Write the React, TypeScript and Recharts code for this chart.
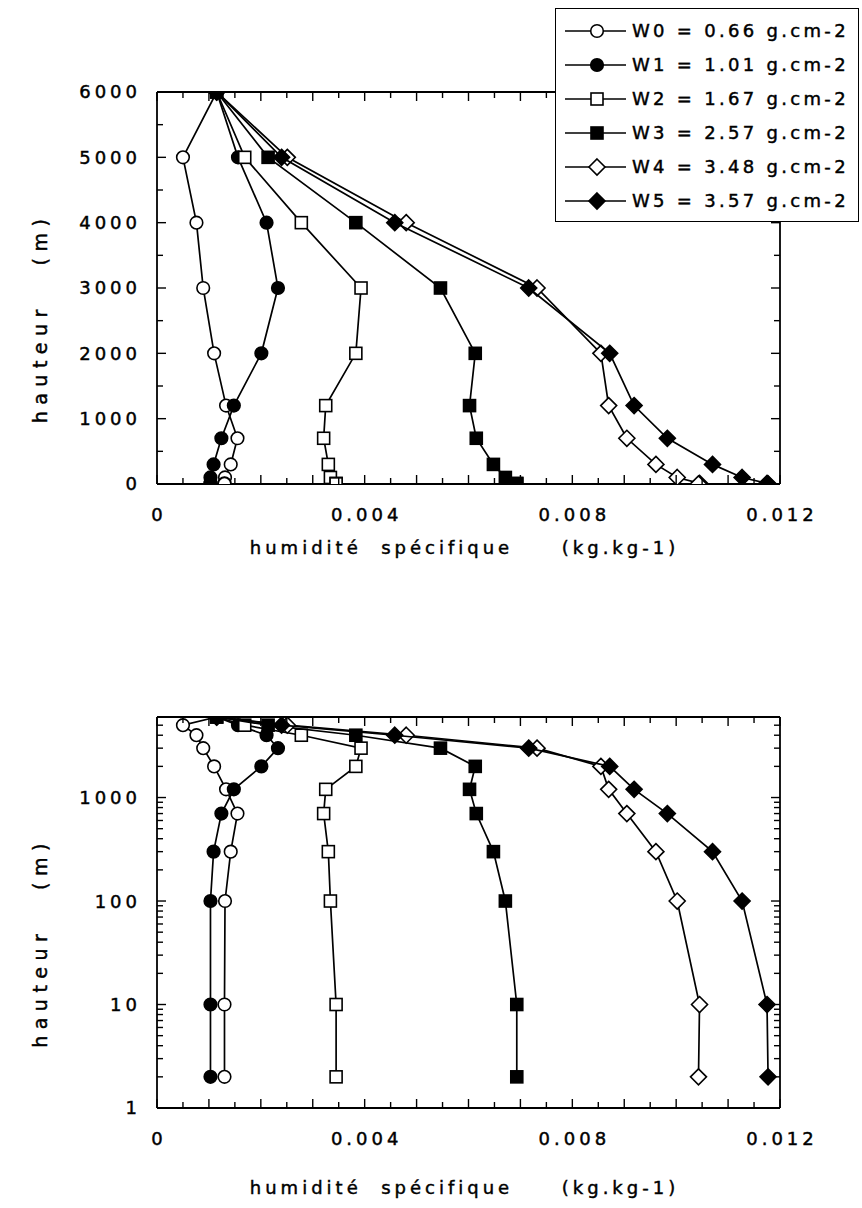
import React from 'react';
import { ScatterChart, Scatter, XAxis, YAxis, Legend } from 'recharts';

// heights (m) of the profile levels
const heights = [6000, 5000, 4000, 3000, 2000, 1200, 700, 300, 100, 10, 2];
// specific humidity (kg/kg) for each profile
const w0 = [0.00115, 0.0005, 0.00076, 0.00089, 0.0011, 0.00133, 0.00155, 0.00142, 0.00131, 0.0013, 0.0013];
const w1 = [0.00115, 0.00156, 0.00211, 0.00233, 0.00201, 0.00148, 0.00124, 0.00109, 0.00103, 0.00103, 0.00103];
const w2 = [0.00115, 0.00169, 0.00278, 0.00393, 0.00383, 0.00325, 0.00321, 0.0033, 0.00334, 0.00345, 0.00345];
const w3 = [0.00115, 0.00214, 0.00383, 0.00546, 0.00613, 0.00602, 0.00615, 0.00648, 0.00671, 0.00693, 0.00693];
const w4 = [0.00115, 0.00251, 0.0048, 0.00732, 0.00855, 0.0087, 0.00905, 0.00961, 0.01002, 0.01045, 0.01043];
const w5 = [0.00115, 0.0024, 0.00458, 0.00716, 0.00872, 0.00919, 0.00983, 0.0107, 0.01127, 0.01175, 0.01177];

const seriesValues = [w0, w1, w2, w3, w4, w5];
const seriesNames = ['W0', 'W1', 'W2', 'W3', 'W4', 'W5'];
const seriesW = ['0.66', '1.01', '1.67', '2.57', '3.48', '3.57'];
const seriesMarkers = ['circle-open', 'circle-filled', 'square-open', 'square-filled', 'diamond-open', 'diamond-filled'];

// axis ticks
const xTicks = [0, 0.0005, 0.001, 0.0015, 0.002, 0.0025, 0.003, 0.0035, 0.004, 0.0045, 0.005, 0.0055, 0.006, 0.0065, 0.007, 0.0075, 0.008, 0.0085, 0.009, 0.0095, 0.01, 0.0105, 0.011, 0.0115, 0.012];
const xMajor = [0, 0.001, 0.002, 0.003, 0.004, 0.005, 0.006, 0.007, 0.008, 0.009, 0.01, 0.011, 0.012];
const xLabels: Record<string, string> = { '0': '0', '0.004': '0.004', '0.008': '0.008', '0.012': '0.012' };
const yLinTicks = [0, 500, 1000, 1500, 2000, 2500, 3000, 3500, 4000, 4500, 5000, 5500, 6000];
const yLinLabels = [0, 1000, 2000, 3000, 4000, 5000, 6000];
const yLogTicks = [1, 2, 3, 4, 5, 6, 7, 8, 9, 10, 20, 30, 40, 50, 60, 70, 80, 90, 100, 200, 300, 400, 500, 600, 700, 800, 900, 1000, 2000, 3000, 4000, 5000, 6000];
const yLogLabels = [1, 10, 100, 1000];

const FONT = '"DejaVu Sans", Verdana, sans-serif';
const FS = 18;
const LS = 4;
const TXT_STROKE = 0.45;

const near = (a: number, list: number[]) => list.some((v) => Math.abs(v - a) < 1e-9);

function Marker({ kind, cx, cy }: { kind: string; cx: number; cy: number }) {
  const filled = kind.endsWith('filled');
  const fill = filled ? '#000' : '#fff';
  if (kind.startsWith('circle')) {
    return <circle cx={cx} cy={cy} r={6.3} fill={fill} stroke="#000" strokeWidth={1.6} />;
  }
  if (kind.startsWith('square')) {
    return <rect x={cx - 6} y={cy - 6} width={12} height={12} fill={fill} stroke="#000" strokeWidth={1.6} />;
  }
  const d = 8;
  return (
    <polygon
      points={`${cx},${cy - d} ${cx + d},${cy} ${cx},${cy + d} ${cx - d},${cy}`}
      fill={fill}
      stroke="#000"
      strokeWidth={1.6}
    />
  );
}

const M_LEFT = 20;
const M_BOTTOM = 24;

const txtProps = {
  fontFamily: FONT,
  fontSize: FS,
  letterSpacing: LS,
  fill: '#000',
  stroke: '#000',
  strokeWidth: TXT_STROKE,
};

const makeLeftTick = (majors: number[], labels: number[]) => (props: any) => {
  const { x, y, payload } = props;
  const v = payload.value;
  const major = near(v, majors);
  const ax = x + M_LEFT;
  return (
    <g>
      <line x1={ax} x2={ax + (major ? 9 : 6)} y1={y} y2={y} stroke="#000" strokeWidth={1.4} />
      {near(v, labels) && (
        <text x={x + LS} y={y} dy="0.36em" textAnchor="end" {...txtProps}>
          {String(v)}
        </text>
      )}
    </g>
  );
};

const makeRightTick = (majors: number[]) => (props: any) => {
  const { x, y, payload } = props;
  const major = near(payload.value, majors);
  return <line x1={x} x2={x - (major ? 9 : 6)} y1={y} y2={y} stroke="#000" strokeWidth={1.4} />;
};

const BottomTick = (props: any) => {
  const { x, y, payload } = props;
  const v = payload.value;
  const major = near(v, xMajor);
  const ay = y - M_BOTTOM;
  const key = Object.keys(xLabels).find((k) => Math.abs(Number(k) - v) < 1e-9);
  return (
    <g>
      <line x1={x} x2={x} y1={ay} y2={ay - (major ? 9 : 6)} stroke="#000" strokeWidth={1.4} />
      {key !== undefined && (
        <text x={x + LS / 2} y={y} dy="0.71em" textAnchor="middle" {...txtProps}>
          {xLabels[key]}
        </text>
      )}
    </g>
  );
};

const TopTick = (props: any) => {
  const { x, y, payload } = props;
  const major = near(payload.value, xMajor);
  return <line x1={x} x2={x} y1={y} y2={y + (major ? 9 : 6)} stroke="#000" strokeWidth={1.4} />;
};

const makeXTitle = (offset: number) => (props: any) => {
  const vb = props.viewBox || {};
  return (
    <text
      x={vb.x + vb.width / 2 - 4}
      y={vb.y + offset}
      dy="0.36em"
      textAnchor="middle"
      {...txtProps}
      style={{ whiteSpace: 'pre' }}
    >
      {'humidité  spécifique     (kg.kg-1)'}
    </text>
  );
};

const YTitle = (props: any) => {
  const vb = props.viewBox || {};
  const cx = vb.x + 40;
  const cy = vb.y + vb.height / 2 + 30;
  return (
    <text
      x={cx}
      y={cy}
      dy="0.36em"
      textAnchor="middle"
      transform={`rotate(-90, ${cx}, ${cy})`}
      {...txtProps}
      fontSize={19}
      letterSpacing={6.5}
      style={{ whiteSpace: 'pre' }}
    >
      {'hauteur   (m)'}
    </text>
  );
};

const LegendBox = () => (
  <div
    style={{
      width: 304,
      height: 214,
      boxSizing: 'border-box',
      border: '1.6px solid #000',
      background: '#fff',
      paddingTop: 5,
    }}
  >
    {seriesNames.map((n, i) => (
      <div key={n} style={{ height: 34, position: 'relative' }}>
        <svg width={80} height={34} style={{ position: 'absolute', left: 0, top: 0 }}>
          <line x1={9} x2={70} y1={17} y2={17} stroke="#000" strokeWidth={1.6} />
          <Marker kind={seriesMarkers[i]} cx={41} cy={17} />
        </svg>
        <div
          style={{
            position: 'absolute',
            left: 76,
            top: 0,
            height: 34,
            lineHeight: '34px',
            fontFamily: FONT,
            fontSize: FS,
            letterSpacing: 3.3,
            whiteSpace: 'pre',
            color: '#000',
            WebkitTextStroke: `${TXT_STROKE}px #000`,
          }}
        >
          {`${n} = ${seriesW[i]} g.cm-2`}
        </div>
      </div>
    ))}
  </div>
);

const seriesData = seriesValues.map((vals) => heights.map((h, i) => ({ q: vals[i], h })));

function Panel({ log, top, height }: { log: boolean; top: number; height: number }) {
  const yTicks = log ? yLogTicks : yLinTicks;
  const yMajors = log ? yLogLabels : yLinLabels;
  const yDomain: [number, number] = log ? [1, 6000] : [0, 6000];
  const margin = log ? { top: 107, right: 62, bottom: 0, left: 0 } : { top: 82, right: 62, bottom: 16, left: 0 };
  const axisLine = { stroke: '#000', strokeWidth: 1.8 };
  return (
    <div style={{ position: 'absolute', left: 0, top, width: 862, height }}>
      <ScatterChart width={862} height={height} margin={margin}>
        <XAxis
          xAxisId="b"
          type="number"
          dataKey="q"
          domain={[0, 0.012]}
          ticks={xTicks}
          interval={0}
          allowDataOverflow
          height={100}
          tickSize={0}
          tickMargin={M_BOTTOM}
          tickLine={false}
          axisLine={axisLine}
          tick={BottomTick}
          label={{ content: makeXTitle(log ? 80 : 64) }}
        />
        <XAxis
          xAxisId="t"
          orientation="top"
          type="number"
          dataKey="q"
          domain={[0, 0.012]}
          ticks={xTicks}
          interval={0}
          allowDataOverflow
          height={10}
          tickSize={0}
          tickMargin={0}
          tickLine={false}
          axisLine={axisLine}
          tick={TopTick}
        />
        <YAxis
          yAxisId="l"
          type="number"
          dataKey="h"
          scale={log ? 'log' : 'linear'}
          domain={yDomain}
          ticks={yTicks}
          interval={0}
          allowDataOverflow
          width={157}
          tickSize={0}
          tickMargin={M_LEFT}
          tickLine={false}
          axisLine={axisLine}
          tick={makeLeftTick(yMajors, yMajors)}
          label={{ content: YTitle }}
        />
        <YAxis
          yAxisId="r"
          orientation="right"
          type="number"
          dataKey="h"
          scale={log ? 'log' : 'linear'}
          domain={yDomain}
          ticks={yTicks}
          interval={0}
          allowDataOverflow
          width={20}
          tickSize={0}
          tickMargin={0}
          tickLine={false}
          axisLine={axisLine}
          tick={makeRightTick(yMajors)}
        />
        {seriesData.map((d, i) => (
          <Scatter
            key={seriesNames[i]}
            name={seriesNames[i]}
            data={d}
            xAxisId="b"
            yAxisId="l"
            fill="#000"
            line={{ stroke: '#000', strokeWidth: 1.7 }}
            isAnimationActive={false}
            shape={(p: any) => <Marker kind={seriesMarkers[i]} cx={p.cx} cy={p.cy} />}
          />
        ))}
        {!log && (
          <Legend
            layout="horizontal"
            verticalAlign="middle"
            align="center"
            wrapperStyle={{ position: 'absolute', left: 555, top: 8, width: 304, height: 214 }}
            content={() => <LegendBox />}
          />
        )}
      </ScatterChart>
    </div>
  );
}

export default function App() {
  return (
    <div style={{ position: 'absolute', left: 0, top: 0, width: 862, height: 1208, background: '#fff', overflow: 'hidden' }}>
      <Panel log={false} top={0} height={600} />
      <Panel log={true} top={600} height={608} />
    </div>
  );
}
